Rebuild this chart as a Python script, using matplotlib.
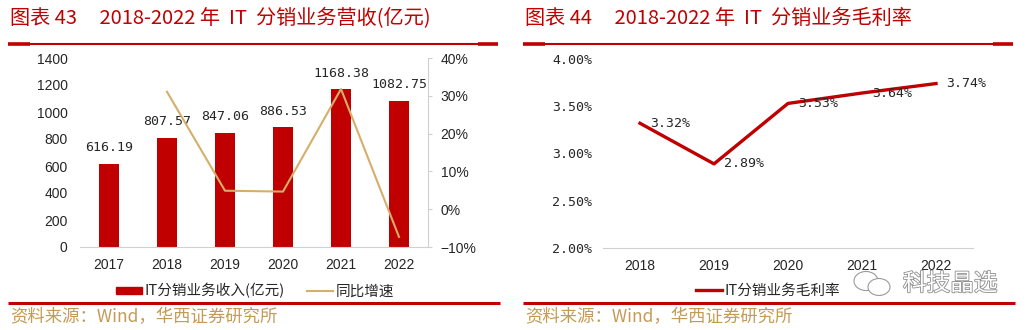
import matplotlib
matplotlib.use("Agg")
import matplotlib.pyplot as plt
from matplotlib.lines import Line2D
from matplotlib.patches import Patch, Ellipse
from matplotlib.ticker import FuncFormatter, MultipleLocator
import matplotlib.patheffects as pe

plt.rcParams['font.family'] = ['Liberation Sans', 'Noto Sans CJK SC']

# IT distribution revenue (100m yuan) and YoY growth
rev_years = ['2017', '2018', '2019', '2020', '2021', '2022']
revenue = [616.19, 807.57, 847.06, 886.53, 1168.38, 1082.75]
yoy_years = ['2018', '2019', '2020', '2021', '2022']
yoy_growth = [31.06, 4.89, 4.66, 31.79, -7.33]

# gross margin of IT distribution (%)
gm_years = ['2018', '2019', '2020', '2021', '2022']
gross_margin = [3.32, 2.89, 3.53, 3.64, 3.74]

RED = '#C00000'
TAN = '#D6AE6B'
GOLD = '#C49A55'
GRID = '#D0D0D0'
TXT = '#262626'
CJK = ['Noto Sans CJK SC', 'DejaVu Sans']
MONO = ['DejaVu Sans Mono', 'Noto Sans CJK SC']

W, H = 1034, 330
fig = plt.figure(figsize=(W / 100, H / 100), dpi=100)


def px(x0, y0, x1, y1):
    # pixel box (top-left origin) -> figure fraction rect
    return [x0 / W, 1 - y1 / H, (x1 - x0) / W, (y1 - y0) / H]


def hline(x0, x1, y, lw):
    fig.add_artist(Line2D([x0 / W, x1 / W], [1 - y / H, 1 - y / H],
                          color=RED, lw=lw, solid_capstyle='butt',
                          transform=fig.transFigure))


def panel_frame(x0, x1, title):
    fig.text((x0 + 2) / W, 1 - 18 / H, title, color=RED, fontsize=14.5,
             family=CJK, va='center', ha='left')
    hline(x0, x1, 43.5, 1.5)
    hline(x0, x0 + 22, 43.5, 2.6)
    hline(x1 - 20, x1, 43.5, 2.6)
    hline(x0, x1 + 2, 303, 2.2)
    fig.text((x0 + 2) / W, 1 - 317 / H, '资料来源：Wind，华西证券研究所',
             color=GOLD, fontsize=12.5, family=CJK, va='center', ha='left')


# ---- left: revenue bars + yoy line
ax = fig.add_axes(px(80, 58, 428, 247))
xs = range(len(rev_years))
ax.bar(xs, revenue, width=0.35, color=RED, zorder=2)
for x, v in zip(xs, revenue):
    ax.annotate(f'{v:.2f}', (x, v), xytext=(0, 7), textcoords='offset points',
                ha='center', va='bottom', fontsize=9.5, family=MONO, color=TXT)
ax.set_xlim(-0.5, 5.5)
ax.set_ylim(0, 1400)
ax.yaxis.set_major_locator(MultipleLocator(200))
ax.set_xticks(list(xs))
ax.set_xticklabels(rev_years)
for s in ['top', 'left', 'right']:
    ax.spines[s].set_visible(False)
ax.spines['bottom'].set_color(GRID)
ax.tick_params(axis='y', length=0, pad=9, labelsize=10, labelcolor=TXT)
ax.tick_params(axis='x', length=0, pad=8, labelsize=10, labelcolor=TXT)

ax2 = ax.twinx()
yx = [rev_years.index(y) for y in yoy_years]
ax2.plot(yx, yoy_growth, color=TAN, lw=1.5, zorder=3)
ax2.set_ylim(-10, 40)
ax2.yaxis.set_major_locator(MultipleLocator(10))
ax2.yaxis.set_major_formatter(FuncFormatter(
    lambda v, p: f'{v:.0f}%'.replace('-', '\u2212')))
for s in ['top', 'left', 'bottom']:
    ax2.spines[s].set_visible(False)
ax2.spines['right'].set_color(GRID)
ax2.tick_params(axis='y', length=3, color=GRID, pad=6, labelsize=10,
                labelcolor=TXT)

fig.legend(handles=[Patch(color=RED, label='IT分销业务收入(亿元)'),
                    Line2D([], [], color=TAN, lw=1.5, label='同比增速')],
           loc='center', bbox_to_anchor=(255 / W, 1 - 291 / H), ncol=2,
           frameon=False, prop={'family': CJK, 'size': 10.5},
           handlelength=1.8, handleheight=0.45, handletextpad=0.2,
           columnspacing=1.5, labelcolor=TXT)

panel_frame(8, 498, '图表 43     2018-2022 年  IT  分销业务营收(亿元)')

# ---- right: gross margin line
bx = fig.add_axes(px(603, 59, 973, 248))
gx = range(len(gm_years))
bx.plot(gx, gross_margin, color=RED, lw=2.4, zorder=3)
for x, v in zip(gx, gross_margin):
    bx.annotate(f'{v:.2f}%', (x, v), xytext=(7, 0), textcoords='offset points',
                ha='left', va='center', fontsize=9.5, family=MONO, color=TXT)
bx.set_xlim(-0.5, 4.5)
bx.set_ylim(2.0, 4.0)
bx.yaxis.set_major_locator(MultipleLocator(0.5))
bx.yaxis.set_major_formatter(FuncFormatter(lambda v, p: f'{v:.2f}%'))
bx.set_xticks(list(gx))
bx.set_xticklabels(gm_years)
for s in ['top', 'left', 'right']:
    bx.spines[s].set_visible(False)
bx.spines['bottom'].set_color(GRID)
bx.tick_params(axis='y', length=0, pad=8, labelsize=9.5, labelcolor=TXT)
for t in bx.get_yticklabels():
    t.set_family(MONO)
bx.tick_params(axis='x', length=0, pad=8, labelsize=10, labelcolor=TXT)

fig.legend(handles=[Line2D([], [], color=RED, lw=2.4, label='IT分销业务毛利率')],
           loc='center', bbox_to_anchor=(768 / W, 1 - 291 / H),
           frameon=False, prop={'family': CJK, 'size': 10.5},
           handlelength=1.8, handletextpad=0.2, labelcolor=TXT)

panel_frame(523, 1013, '图表 44     2018-2022 年  IT  分销业务毛利率')

# account watermark: chat bubbles + name
for cx, cy, w, h in [(866, 281, 24, 19), (879, 287, 22, 17)]:
    fig.add_artist(Ellipse((cx / W, 1 - cy / H), w / W, h / H,
                           transform=fig.transFigure, facecolor='white',
                           edgecolor='#9A9A9A', lw=0.8))
fig.text(903 / W, 1 - 284 / H, '科技晶选', fontsize=17, family=CJK, color='white',
         va='center', ha='left',
         path_effects=[pe.withStroke(linewidth=1.2, foreground='#8C8C8C')])

fig.savefig('out.png', dpi=100)
